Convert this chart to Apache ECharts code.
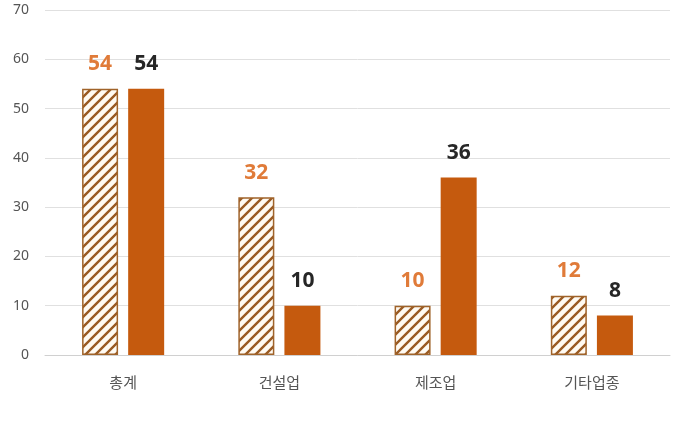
<!DOCTYPE html>
<html>
<head>
<meta charset="utf-8">
<script src="https://cdn.jsdelivr.net/npm/echarts@6/dist/echarts.min.js"></script>
<style>html,body{margin:0;padding:0;background:#fff}</style>
</head>
<body>
<div id="chart" style="width:686px;height:440px;"></div>
<script>
  var categories = ['총계', '건설업', '제조업', '기타업종'];
  var hatchValues = [54, 32, 10, 12];
  var solidValues = [54, 10, 36, 8];
  var yTicks = [0, 10, 20, 30, 40, 50, 60, 70];

  // diagonal stripe pattern for the first series
  var pc = document.createElement('canvas');
  pc.width = 10; pc.height = 10;
  var ctx = pc.getContext('2d');
  ctx.fillStyle = '#fffaf2';
  ctx.fillRect(0, 0, 10, 10);
  ctx.strokeStyle = '#9a5a22';
  ctx.lineWidth = 2.4;
  ctx.beginPath();
  ctx.moveTo(-2, 12); ctx.lineTo(12, -2);
  ctx.moveTo(-2, 2); ctx.lineTo(2, -2);
  ctx.moveTo(8, 12); ctx.lineTo(12, 8);
  ctx.stroke();

  var myChart = echarts.init(document.getElementById('chart'));
  var option = {
    animation: false,
    grid: { left: 45, right: 16, top: 10, bottom: 85 },
    xAxis: {
      type: 'category',
      data: categories,
      axisTick: { show: false },
      axisLine: { lineStyle: { color: '#d0d0d0' } },
      axisLabel: { color: '#555', fontSize: 15, margin: 20, fontFamily: 'Noto Sans CJK KR' }
    },
    yAxis: {
      type: 'value',
      min: yTicks[0], max: yTicks[yTicks.length - 1], interval: 10,
      axisLabel: { color: '#555', fontSize: 14, margin: 16, fontFamily: 'Noto Sans' },
      splitLine: { lineStyle: { color: '#e0e0e0' } }
    },
    series: [{
      type: 'bar',
      data: hatchValues,
      barWidth: 36,
      barGap: '28%',
      itemStyle: { color: { image: pc, repeat: 'repeat' }, borderColor: '#a0632a', borderWidth: 1.5 },
      label: { show: true, position: 'top', distance: 14, color: '#e07b39', fontSize: 21, fontWeight: 'bold', fontFamily: 'Noto Sans' }
    }, {
      type: 'bar',
      data: solidValues,
      barWidth: 36,
      itemStyle: { color: '#c55a0e' },
      label: { show: true, position: 'top', distance: 14, color: '#262626', fontSize: 21, fontWeight: 'bold', fontFamily: 'Noto Sans' }
    }]
  };
  myChart.setOption(option);
</script>
</body>
</html>
